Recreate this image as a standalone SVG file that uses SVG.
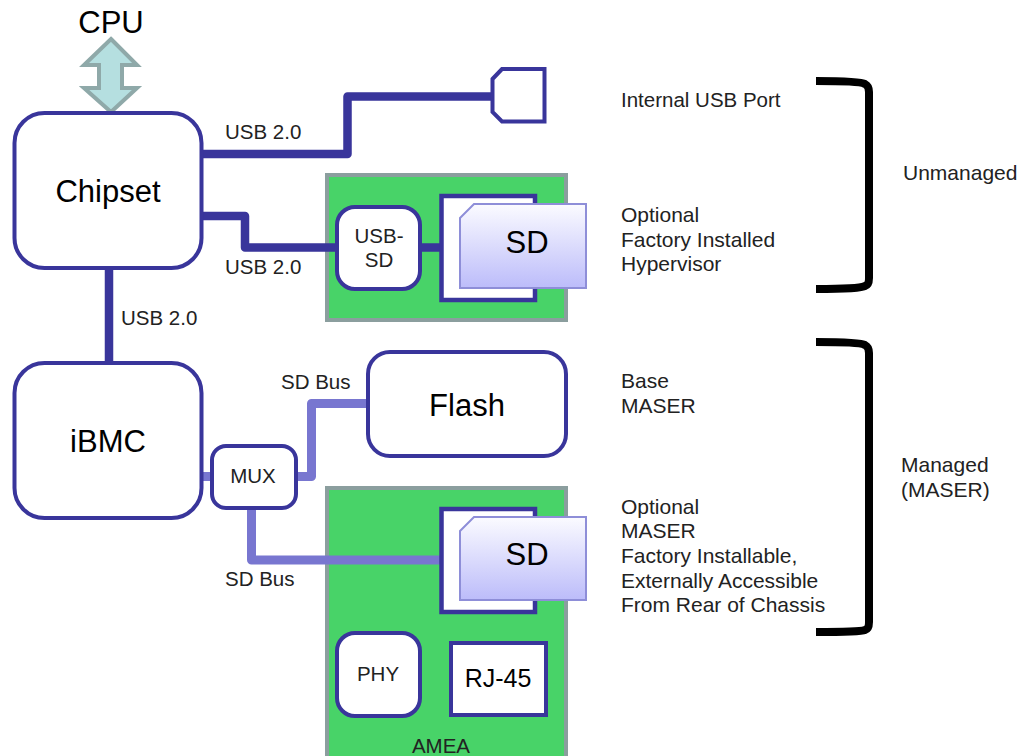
<svg xmlns="http://www.w3.org/2000/svg" width="1021" height="756" viewBox="0 0 1021 756">
<style>
text{font-family:"Liberation Sans",Arial,sans-serif;fill:#222}
.s{font-size:20.5px}.r{font-size:21px}.b{font-size:31px;fill:#000}
.n{fill:#fff;stroke:#39359b;stroke-width:4}
.sq{fill:#fff;stroke:#39359b;stroke-width:4.5}
.board{fill:#48d368;stroke:#8b9e9e;stroke-width:4}
.sd{fill:url(#g);stroke:#8e8ed8;stroke-width:2}
.dark{fill:none;stroke:#39359b;stroke-width:8.5;stroke-linejoin:round}
.light{fill:none;stroke:#7876d0;stroke-width:9;stroke-linejoin:round}
.br{fill:none;stroke:#000;stroke-width:8;stroke-linejoin:round}
</style>
<defs><linearGradient id="g" x1="0" y1="0" x2="0" y2="1"><stop offset="0" stop-color="#fbfbff"/><stop offset="1" stop-color="#bcbcfa"/></linearGradient></defs>
<rect width="1021" height="756" fill="#fff"/>
<g id="board1"><rect class="board" x="327" y="175" width="239" height="145"/></g>
<g id="board2"><path class="board" d="M327 758V488H566V758"/><text x="441" y="753" text-anchor="middle" class="s">AMEA</text></g>
<g id="connectors">
<path class="dark" d="M203 154H347.500V96.500H492"/>
<path class="dark" d="M203 216H245V247.500H338"/>
<path class="dark" d="M420 247.500H441"/>
<path class="dark" d="M109 268V362"/>
<path class="light" d="M203 476.500H212"/>
<path class="light" d="M296 476.500H311.500V403.500H368"/>
<path class="light" d="M251.500 508V560H441"/>
</g>
<g id="cpu-arrow"><path d="M111 39L137 65H122V88H137L111 112L84 88H99V65H84Z" fill="#b5dfe0" stroke="#8fa9a9" stroke-width="4"/><text x="111" y="33" text-anchor="middle" class="b">CPU</text></g>
<g id="chipset"><rect class="n" x="14.500" y="113" width="187" height="155" rx="30"/><text x="108" y="202" text-anchor="middle" class="b">Chipset</text></g>
<g id="ibmc"><rect class="n" x="14.500" y="363" width="187" height="155" rx="30"/><text x="108" y="452" text-anchor="middle" class="b">iBMC</text></g>
<g id="usb-port"><path class="n" d="M492.500 79L502 69H544.500V121.500H502L492.500 112Z"/></g>
<g id="usb-sd"><rect class="n" x="337" y="207" width="83" height="82" rx="18"/><text x="379" y="243" text-anchor="middle" class="s">USB-</text><text x="379" y="267" text-anchor="middle" class="s">SD</text></g>
<g id="slot1"><rect class="sq" x="441.500" y="196" width="93.500" height="104"/></g>
<g id="sd1"><path class="sd" d="M460 218L474 204H586V288H460Z"/><text x="527" y="253" text-anchor="middle" class="b">SD</text></g>
<g id="flash"><rect class="n" x="368" y="352" width="198" height="104" rx="22"/><text x="467" y="416" text-anchor="middle" class="b">Flash</text></g>
<g id="mux"><rect class="n" x="212" y="446" width="84" height="62" rx="14"/><text x="253" y="483" text-anchor="middle" class="s">MUX</text></g>
<g id="slot2"><rect class="sq" x="441.500" y="509" width="93.500" height="103"/></g>
<g id="sd2"><path class="sd" d="M460 531L474 517H586V600H460Z"/><text x="527" y="565" text-anchor="middle" class="b">SD</text></g>
<g id="phy"><rect class="n" x="337" y="633" width="83" height="83" rx="18"/><text x="378" y="681" text-anchor="middle" class="s">PHY</text></g>
<g id="rj45"><rect class="n" x="451" y="643" width="95" height="72"/><text x="498" y="687" text-anchor="middle" style="font-size:25px;fill:#000">RJ-45</text></g>
<g id="labels">
<text x="225" y="139" class="s">USB 2.0</text>
<text x="225" y="274" class="s">USB 2.0</text>
<text x="121" y="325" class="s">USB 2.0</text>
<text x="281" y="389" class="s">SD Bus</text>
<text x="225" y="586" class="s">SD Bus</text>
<text x="621" y="107" class="s">Internal USB Port</text>
<text x="621" y="222" class="r">Optional</text>
<text x="621" y="247" class="r">Factory Installed</text>
<text x="621" y="271" class="r">Hypervisor</text>
<text x="621" y="388" class="r">Base</text>
<text x="621" y="413" class="r">MASER</text>
<text x="621" y="514" class="r">Optional</text>
<text x="621" y="538" class="r">MASER</text>
<text x="621" y="563" class="r">Factory Installable,</text>
<text x="621" y="588" class="r">Externally Accessible</text>
<text x="621" y="612" class="r">From Rear of Chassis</text>
<text x="903" y="180" class="r">Unmanaged</text>
<text x="901" y="472" class="r">Managed</text>
<text x="901" y="497" class="r">(MASER)</text>
</g>
<g id="brackets">
<path class="br" d="M816 81Q860 81 865 84Q869 86 869 92V278Q869 285 865 286Q860 289 816 289"/>
<path class="br" d="M816 342Q860 342 865 345Q869 347 869 353V622Q869 629 865 630Q860 632 816 632"/>
</g>
</svg>
